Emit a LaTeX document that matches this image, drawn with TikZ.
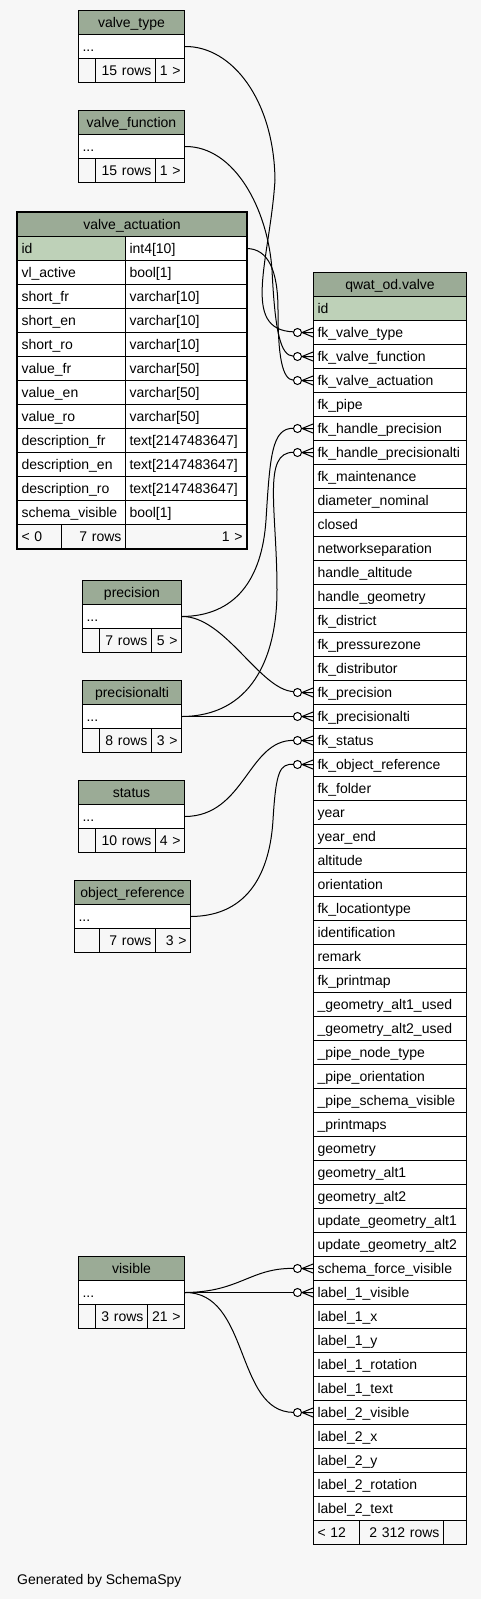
\documentclass[tikz,border=0pt]{standalone}
\usepackage{fontspec}
\setmainfont{Liberation Sans}
\usetikzlibrary{positioning,calc}
\definecolor{spyfond}{HTML}{F7F7F7}
\definecolor{spytete}{HTML}{9BAB96}
\definecolor{spycle}{HTML}{BED1B8}

\tikzset{
  cellule/.style={draw, line width=1pt, anchor=north west, minimum height=24pt,
    inner xsep=4pt, inner ysep=0pt, text height=10.5pt, text depth=0.5pt,
    execute at begin node={\hyphenpenalty=10000\exhyphenpenalty=10000}},
  tete/.style={cellule, fill=spytete, align=center, inner xsep=1pt},
  ligne/.style={cellule, fill=white, align=left},
  cle/.style={cellule, fill=spycle, align=left},
  pied/.style={cellule, fill=spyfond, align=right},
  lien/.style={draw, line width=1pt, shorten >=19.5pt},
  patte/.pic={
    \draw[line width=1pt] (-11,0) -- (0,0) (-11,0) -- (0,-4.5) (-11,0) -- (0,4.5);
    \draw[line width=1pt, fill=white] (-15.5,0) circle (4pt);
  }
}

\begin{document}
\begin{tikzpicture}[x=1pt, y=-1pt, font=\fontsize{14}{16}\selectfont]
  % Fond gris clair de la page
  \fill[spyfond] (0,0) rectangle (481,1599);
  \useasboundingbox (0,0) rectangle (481,1599);

  % Petites tables referencees : titre, ligne "...", pied a trois cases
  \foreach \nom/\titre/\x/\y/\w/\sa/\sb/\nb/\rel in {
      vtype/valve\_type/78/10/106/95/155/15 rows/1 >,
      vfonc/valve\_function/78/110/106/95/155/15 rows/1 >,
      prec/precision/82/580/99/99/151/7 rows/5 >,
      palt/precisionalti/82/680/99/99/151/8 rows/3 >,
      stat/status/78/780/106/95/155/10 rows/4 >,
      oref/object\_reference/74/880/116/99/155/7 rows/3 >,
      vis/visible/78/1256/106/95/147/3 rows/21 >}{
    \pgfmathsetmacro\wt{\w-2}
    \pgfmathsetmacro\wl{\w-8}
    \pgfmathsetmacro\wa{\sa-\x-8}
    \pgfmathsetmacro\wb{\sb-\sa-8}
    \pgfmathsetmacro\wc{\x+\w-\sb-8}
    \node[tete, text width=\wt pt] (\nom) at (\x,\y) {\titre};
    \node[ligne, text width=\wl pt] (\nom-l) at (\x,\y+24) {...};
    \node[pied, text width=\wa pt] (\nom-p1) at (\x,\y+48) {};
    \node[pied, text width=\wb pt] (\nom-p2) at (\sa,\y+48) {\nb};
    \node[pied, text width=\wc pt] (\nom-p3) at (\sb,\y+48) {\rel};
  }

  % Table valve_actuation : deux colonnes, cadre epais
  \node[tete, text width=227pt] (va) at (17,212) {valve\_actuation};
  \node[cle, text width=100pt] (va-1) at (17,236) {id};
  \node[ligne, text width=113pt] (va-1b) at (125,236) {int4[10]};
  \foreach \col/\typ [count=\i from 2] in {vl\_active/bool[1],
      short\_fr/varchar[10], short\_en/varchar[10], short\_ro/varchar[10],
      value\_fr/varchar[50], value\_en/varchar[50], value\_ro/varchar[50],
      description\_fr/text[2147483647], description\_en/text[2147483647],
      description\_ro/text[2147483647], schema\_visible/bool[1]}{
    \node[ligne, text width=100pt] (va-\i) at (17,{212+24*\i}) {\col};
    \node[ligne, text width=113pt] (va-\i b) at (125,{212+24*\i}) {\typ};
  }
  \node[pied, align=left, text width=36pt] (va-p1) at (17,524) {< 0};
  \node[pied, text width=56pt] (va-p2) at (61,524) {7 rows};
  \node[pied, text width=113pt] (va-p3) at (125,524) {1 >};
  \draw[line width=2.5pt] (va.north west) rectangle (va-p3.south east);

  % Table principale qwat_od.valve
  \node[tete, text width=151pt] (valve) at (313,272) {qwat\_od.valve};
  \node[cle, text width=145pt] (valve-1) at (313,296) {id};
  \foreach \col [count=\i from 2] in {fk\_valve\_type, fk\_valve\_function,
      fk\_valve\_actuation, fk\_pipe, fk\_handle\_precision,
      fk\_handle\_precisionalti, fk\_maintenance, diameter\_nominal, closed,
      networkseparation, handle\_altitude, handle\_geometry, fk\_district,
      fk\_pressurezone, fk\_distributor, fk\_precision, fk\_precisionalti,
      fk\_status, fk\_object\_reference, fk\_folder, year, year\_end, altitude,
      orientation, fk\_locationtype, identification, remark, fk\_printmap,
      \_geometry\_alt1\_used, \_geometry\_alt2\_used, \_pipe\_node\_type,
      \_pipe\_orientation, \_pipe\_schema\_visible, \_printmaps, geometry,
      geometry\_alt1, geometry\_alt2, update\_geometry\_alt1,
      update\_geometry\_alt2, schema\_force\_visible, label\_1\_visible,
      label\_1\_x, label\_1\_y, label\_1\_rotation, label\_1\_text,
      label\_2\_visible, label\_2\_x, label\_2\_y, label\_2\_rotation,
      label\_2\_text}{
    \node[ligne, text width=145pt] (valve-\i) at (313,{272+24*\i}) {\col};
  }
  \node[pied, align=left, text width=38pt] (valve-p1) at (313,1520) {< 12};
  \node[pied, text width=76pt] (valve-p2) at (359,1520) {2 312 rows};
  \node[pied, text width=15pt] (valve-p3) at (443,1520) {};

  % Liens de cles etrangeres
  \draw[lien] (vtype-l.east) .. controls (232,46) and (274,100) .. (275,180)
    .. controls (270,260) and (240,330) .. (valve-2.west);
  \draw[lien] (vfonc-l.east) .. controls (235,146) and (268,210) .. (272,270)
    .. controls (275,330) and (280,356) .. (valve-3.west);
  \draw[lien] (va-1b.east) .. controls (268,249) and (278,270) .. (278,310)
    .. controls (278,355) and (282,380) .. (valve-4.west);
  \draw[lien] (prec-l.east) .. controls (235,616) and (262,580) .. (266,520)
    .. controls (270,455) and (272,428) .. (valve-6.west);
  \draw[lien] (palt-l.east) .. controls (250,716) and (277,660) .. (277,590)
    .. controls (277,510) and (262,452) .. (valve-7.west);
  \draw[lien] (prec-l.east) .. controls (225,616) and (260,690) .. (valve-17.west);
  \draw[lien] (palt-l.east) -- (valve-18.west);
  \draw[lien] (stat-l.east) .. controls (245,816) and (248,740) .. (valve-19.west);
  \draw[lien] (oref-l.east) .. controls (250,916) and (270,870) .. (273,820)
    .. controls (276,770) and (280,764) .. (valve-20.west);
  \draw[lien] (vis-l.east) .. controls (240,1292) and (250,1268) .. (valve-41.west);
  \draw[lien] (vis-l.east) -- (valve-42.west);
  \draw[lien] (vis-l.east) .. controls (250,1292) and (235,1412) .. (valve-47.west);
  % Pattes d'oie avec cercle cote table fille
  \foreach \i in {2,3,4,6,7,17,18,19,20,41,42,47}
    \pic at (valve-\i.west) {patte};

  \node[anchor=base west, inner sep=0pt] (signature) at (17,1584)
    {Generated by SchemaSpy};
\end{tikzpicture}
\end{document}
